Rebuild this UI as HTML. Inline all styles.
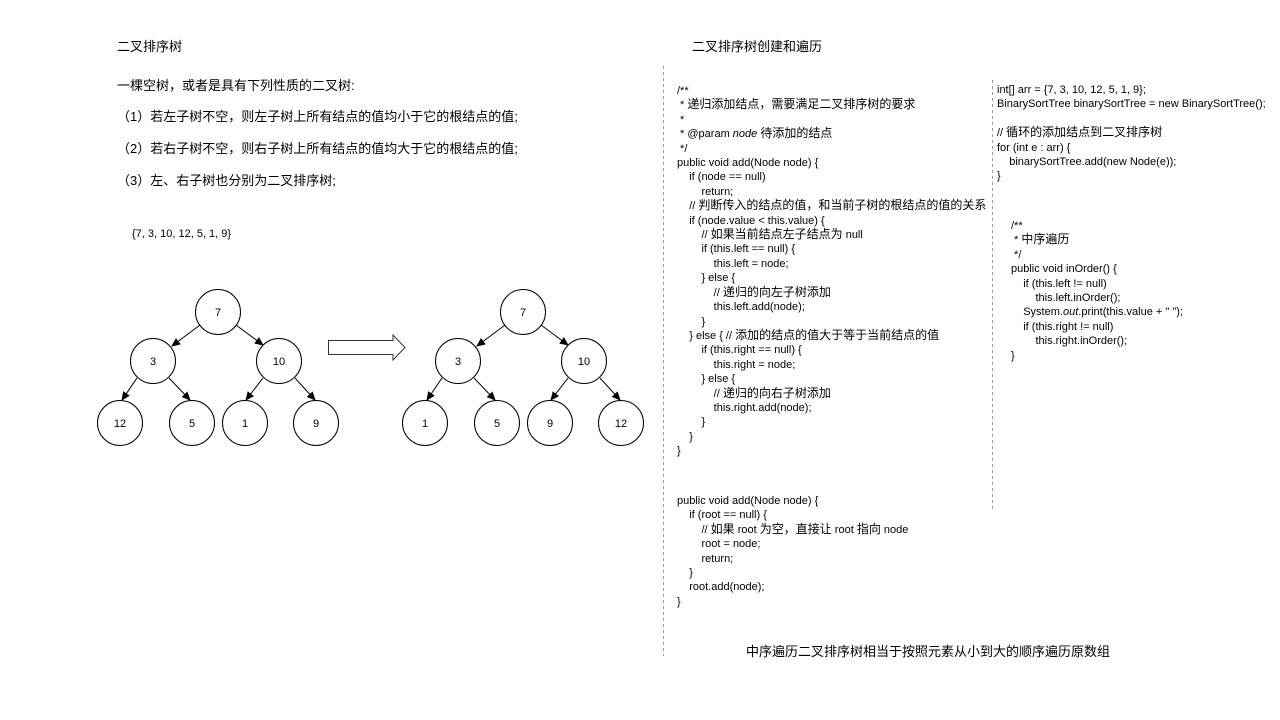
<!DOCTYPE html>
<html><head><meta charset="utf-8"><style>
body{margin:0;width:1280px;height:720px;background:#fff;position:relative;overflow:hidden;font-family:"Liberation Sans","Noto Sans CJK SC",sans-serif;color:#000}
.t{position:absolute;white-space:pre;font-size:13px;line-height:14px}
.c{position:absolute;white-space:pre;font-size:11px;line-height:14.4px}
.k{font-size:12px;line-height:10px}
</style></head><body>
<svg width="1280" height="720" style="position:absolute;left:0;top:0">
<defs><marker id="a" markerWidth="10" markerHeight="10" refX="8" refY="5" orient="auto" markerUnits="userSpaceOnUse"><path d="M0,1 L9,5 L0,9 Z" fill="#000"/></marker></defs>
<g stroke="#000" fill="none" stroke-width="1">
<line x1="663.5" y1="66" x2="663.5" y2="656" stroke-dasharray="3,3" stroke="#999"/>
<line x1="992.5" y1="80" x2="992.5" y2="510" stroke-dasharray="3,3" stroke="#999"/>
<g>
<line x1="200" y1="325" x2="172" y2="346" marker-end="url(#a)"/>
<line x1="236" y1="325" x2="263" y2="345" marker-end="url(#a)"/>
<line x1="137" y1="378" x2="122" y2="400" marker-end="url(#a)"/>
<line x1="169" y1="378" x2="190" y2="400" marker-end="url(#a)"/>
<line x1="263" y1="378" x2="246" y2="400" marker-end="url(#a)"/>
<line x1="295" y1="378" x2="315" y2="400" marker-end="url(#a)"/>
</g>
<g transform="translate(305,0)">
<line x1="200" y1="325" x2="172" y2="346" marker-end="url(#a)"/>
<line x1="236" y1="325" x2="263" y2="345" marker-end="url(#a)"/>
<line x1="137" y1="378" x2="122" y2="400" marker-end="url(#a)"/>
<line x1="169" y1="378" x2="190" y2="400" marker-end="url(#a)"/>
<line x1="263" y1="378" x2="246" y2="400" marker-end="url(#a)"/>
<line x1="295" y1="378" x2="315" y2="400" marker-end="url(#a)"/>
</g>
<g fill="#fff">
<circle cx="218" cy="312" r="22.5"/><circle cx="153" cy="361" r="22.5"/><circle cx="279" cy="361" r="22.5"/>
<circle cx="120" cy="423" r="22.5"/><circle cx="192" cy="423" r="22.5"/><circle cx="245" cy="423" r="22.5"/><circle cx="316" cy="423" r="22.5"/>
<circle cx="523" cy="312" r="22.5"/><circle cx="458" cy="361" r="22.5"/><circle cx="584" cy="361" r="22.5"/>
<circle cx="425" cy="423" r="22.5"/><circle cx="497" cy="423" r="22.5"/><circle cx="550" cy="423" r="22.5"/><circle cx="621" cy="423" r="22.5"/>
<path d="M328.5,340.5 H393 V335 L405,347.5 L393,360 V354.5 H328.5 Z" stroke="#333"/>
</g>
</g>
<g font-family="Liberation Sans" font-size="11" text-anchor="middle" fill="#000">
<text x="218" y="316">7</text><text x="153" y="365">3</text><text x="279" y="365">10</text>
<text x="120" y="427">12</text><text x="192" y="427">5</text><text x="245" y="427">1</text><text x="316" y="427">9</text>
<text x="523" y="316">7</text><text x="458" y="365">3</text><text x="584" y="365">10</text>
<text x="425" y="427">1</text><text x="497" y="427">5</text><text x="550" y="427">9</text><text x="621" y="427">12</text>
</g>
</svg>
<div class="t" style="left:117px;top:40px">二叉排序树</div>
<div class="t" style="left:692px;top:40px">二叉排序树创建和遍历</div>
<div class="t" style="left:117px;top:79px">一棵空树，或者是具有下列性质的二叉树:</div>
<div class="t" style="left:117px;top:110px">（1）若左子树不空，则左子树上所有结点的值均小于它的根结点的值;</div>
<div class="t" style="left:117px;top:142px">（2）若右子树不空，则右子树上所有结点的值均大于它的根结点的值;</div>
<div class="t" style="left:117px;top:174px">（3）左、右子树也分别为二叉排序树;</div>
<div class="t" style="left:132px;top:227px;font-size:11px">{7, 3, 10, 12, 5, 1, 9}</div>
<div class="t" style="left:746px;top:645px">中序遍历二叉排序树相当于按照元素从小到大的顺序遍历原数组</div>
<div class="c" style="left:677px;top:84px">/**
 * <span class="k">递归添加结点，需要满足二叉排序树的要求</span>
 *
 * @param <i>node</i> <span class="k">待添加的结点</span>
 */
public void add(Node node) {
    if (node == null)
        return;
    // <span class="k">判断传入的结点的值，和当前子树的根结点的值的关系</span>
    if (node.value &lt; this.value) {
        // <span class="k">如果当前结点左子结点为</span> null
        if (this.left == null) {
            this.left = node;
        } else {
            // <span class="k">递归的向左子树添加</span>
            this.left.add(node);
        }
    } else { // <span class="k">添加的结点的值大于等于当前结点的值</span>
        if (this.right == null) {
            this.right = node;
        } else {
            // <span class="k">递归的向右子树添加</span>
            this.right.add(node);
        }
    }
}</div>
<div class="c" style="left:677px;top:494px">public void add(Node node) {
    if (root == null) {
        // <span class="k">如果</span> root <span class="k">为空，直接让</span> root <span class="k">指向</span> node
        root = node;
        return;
    }
    root.add(node);
}</div>
<div class="c" style="left:997px;top:83px">int[] arr = {7, 3, 10, 12, 5, 1, 9};
BinarySortTree binarySortTree = new BinarySortTree();

// <span class="k">循环的添加结点到二叉排序树</span>
for (int e : arr) {
    binarySortTree.add(new Node(e));
}</div>
<div class="c" style="left:1011px;top:219px">/**
 * <span class="k">中序遍历</span>
 */
public void inOrder() {
    if (this.left != null)
        this.left.inOrder();
    System.<i>out</i>.print(this.value + " ");
    if (this.right != null)
        this.right.inOrder();
}</div>
</body></html>
